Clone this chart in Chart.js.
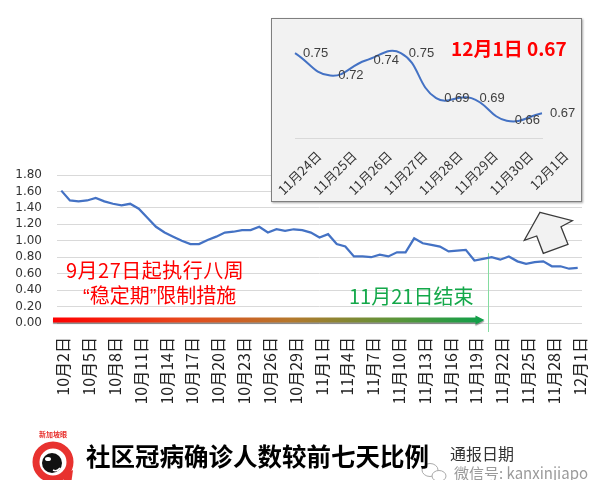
<!DOCTYPE html>
<html>
<head>
<meta charset="utf-8">
<script src="https://cdn.jsdelivr.net/npm/chart.js@4.4.0/dist/chart.umd.min.js"></script>
<style>
  body { margin: 0; width: 601px; height: 480px; overflow: hidden; background: #fff; position: relative; font-family: "Noto Sans CJK SC", sans-serif; }
  #mainChart { position: absolute; left: 0; top: 0; }
  #insetBox { position: absolute; left: 271px; top: 18px; width: 309px; height: 182px; background: #f2f2f2; border: 1px solid #7f7f7f; box-shadow: 1px 1px 2px rgba(0,0,0,0.35); }
  #insetChart { position: absolute; left: 0; top: 0; }
  #deco { position: absolute; left: 0; top: 0; }
  .note { position: absolute; white-space: nowrap; line-height: 1; }
  .q { font-family: "Liberation Sans", sans-serif; }
</style>
</head>
<body>
<canvas id="mainChart" width="601" height="480"></canvas>
<div id="insetBox"><canvas id="insetChart" width="309" height="182"></canvas></div>
<svg id="deco" width="601" height="480">
  <polygon points="540,212.3 572.3,220.7 561,226.7 568,244.3 543.3,253.3 536.7,236 524.3,240.3" fill="#f2f2f2" stroke="#3a3a3a" stroke-width="1.3" stroke-linejoin="miter"/>
  <!-- logo -->
  <path d="M62 476 L73 470 L70 492 Z" fill="#e8322f"/>
  <circle cx="53" cy="462" r="17" fill="#fff" stroke="#e8322f" stroke-width="7"/>
  <circle cx="52" cy="463" r="10" fill="#111"/>
  <ellipse cx="48" cy="459" rx="3" ry="2" fill="#fff"/>
  <path d="M53 470 q4 2 7 -2" stroke="#fff" stroke-width="1.5" fill="none"/>
  <!-- wechat icon -->
  <ellipse cx="430" cy="470" rx="8" ry="6.5" fill="none" stroke="#aaa" stroke-width="1"/>
  <ellipse cx="439" cy="476" rx="7" ry="5.5" fill="#fff" stroke="#aaa" stroke-width="1"/>
</svg>
<span class="note" style="left:39px;top:431px;font-size:7px;color:#e8322f;font-weight:bold;">新加坡眼</span>
<span class="note" style="left:66px;top:260px;font-size:20px;color:#ff0000;letter-spacing:0.5px;">9月27日起执行八周</span>
<span class="note" style="left:83px;top:285px;font-size:20px;color:#ff0000;"><span class="q">“</span>稳定期<span class="q">”</span>限制措施</span>
<span class="note" style="left:349px;top:286px;font-size:20px;color:#14a84a;">11月21日结束</span>
<span class="note" style="left:451px;top:38px;font-size:19px;color:#ff0000;font-weight:bold;">12月1日 0.67</span>
<span class="note" style="left:86px;top:444px;font-size:24.5px;color:#000;font-weight:bold;">社区冠病确诊人数较前七天比例</span>
<span class="note" style="left:450px;top:445px;font-size:16px;color:#333;">通报日期</span>
<span class="note" style="left:454px;top:465px;font-size:15px;color:#9a9a9a;">微信号: kanxinjiapo</span>
<script>
const dateLabels = [
  "10月2日", "10月3日", "10月4日", "10月5日", "10月6日", "10月7日", "10月8日", "10月9日", "10月10日", "10月11日",
  "10月12日", "10月13日", "10月14日", "10月15日", "10月16日", "10月17日", "10月18日", "10月19日", "10月20日", "10月21日",
  "10月22日", "10月23日", "10月24日", "10月25日", "10月26日", "10月27日", "10月28日", "10月29日", "10月30日", "10月31日",
  "11月1日", "11月2日", "11月3日", "11月4日", "11月5日", "11月6日", "11月7日", "11月8日", "11月9日", "11月10日",
  "11月11日", "11月12日", "11月13日", "11月14日", "11月15日", "11月16日", "11月17日", "11月18日", "11月19日", "11月20日",
  "11月21日", "11月22日", "11月23日", "11月24日", "11月25日", "11月26日", "11月27日", "11月28日", "11月29日", "11月30日",
  "12月1日"
];
const ratioValues = [
  1.61, 1.49, 1.48, 1.49, 1.52, 1.48, 1.45, 1.43, 1.45, 1.39,
  1.28, 1.17, 1.10, 1.05, 1.00, 0.96, 0.96, 1.01, 1.05, 1.10,
  1.11, 1.13, 1.13, 1.17, 1.10, 1.14, 1.12, 1.14, 1.13, 1.10,
  1.04, 1.08, 0.96, 0.93, 0.81, 0.81, 0.80, 0.83, 0.81, 0.86,
  0.86, 1.03, 0.97, 0.95, 0.93, 0.87, 0.88, 0.89, 0.76, 0.78,
  0.80, 0.77, 0.81, 0.75, 0.72, 0.74, 0.75, 0.69, 0.69, 0.66,
  0.67
];
const yTickValues = [0, 0.2, 0.4, 0.6, 0.8, 1.0, 1.2, 1.4, 1.6, 1.8];
const insetLabels = ["11月24日", "11月25日", "11月26日", "11月27日", "11月28日", "11月29日", "11月30日", "12月1日"];
const insetValues = [0.75, 0.72, 0.74, 0.75, 0.69, 0.69, 0.66, 0.67];
const endLabel = "11月21日";

const lineBlue = "#4472c4";

// green end line + gradient arrow along the axis
const periodPlugin = {
  id: "period",
  beforeDatasetsDraw(chart) {
    const { ctx, chartArea } = chart;
    const x = chart.scales.x;
    const y = chart.scales.y;
    const endX = Math.round(x.getPixelForValue(dateLabels.indexOf(endLabel) - 0.4)) + 0.5;

    ctx.save();
    ctx.strokeStyle = "#84dca0";
    ctx.lineWidth = 1;
    ctx.beginPath();
    ctx.moveTo(endX, y.getPixelForValue(0.85));
    ctx.lineTo(endX, chartArea.bottom + 9);
    ctx.stroke();

    const ay = y.getPixelForValue(0) - 3;
    const x0 = chartArea.left - 4;
    const tip = endX - 4;
    const grad = ctx.createLinearGradient(x0, 0, tip, 0);
    grad.addColorStop(0, "#ff0000");
    grad.addColorStop(0.3, "#e8481c");
    grad.addColorStop(0.55, "#b5782c");
    grad.addColorStop(0.8, "#5a953a");
    grad.addColorStop(1, "#0ea04a");
    ctx.fillStyle = grad;
    ctx.shadowColor = "rgba(0,0,0,0.4)";
    ctx.shadowOffsetY = 1.5;
    ctx.shadowBlur = 1;
    ctx.beginPath();
    ctx.moveTo(x0, ay - 2.5);
    ctx.lineTo(tip - 9, ay - 2.5);
    ctx.lineTo(tip - 9, ay - 4.5);
    ctx.lineTo(tip, ay);
    ctx.lineTo(tip - 9, ay + 4.5);
    ctx.lineTo(tip - 9, ay + 2.5);
    ctx.lineTo(x0, ay + 2.5);
    ctx.closePath();
    ctx.fill();
    ctx.restore();
  }
};

new Chart(document.getElementById("mainChart"), {
  type: "line",
  data: {
    labels: dateLabels,
    datasets: [{
      data: ratioValues,
      borderColor: lineBlue,
      borderWidth: 2.25,
      pointRadius: 0,
      tension: 0
    }]
  },
  options: {
    responsive: false,
    animation: false,
    layout: { autoPadding: false, padding: { left: 0, right: 19, top: 175, bottom: 0 } },
    plugins: { legend: { display: false }, tooltip: { enabled: false } },
    scales: {
      x: {
        offset: true,
        grid: { display: false, drawTicks: false },
        border: { display: false },
        afterFit(scale) {
          scale.height = 157;
          scale.paddingLeft = 0;
          scale.paddingRight = 0;
        },
        ticks: {
          autoSkip: false,
          minRotation: 90,
          maxRotation: 90,
          padding: 14,
          labelOffset: 2,
          color: "#222",
          font: { family: "Noto Sans CJK SC", size: 16 },
          callback(value, index) { return index % 3 === 0 ? dateLabels[index] : ""; }
        }
      },
      y: {
        min: 0,
        max: 1.8,
        grid: { color: "#d9d9d9", drawTicks: false },
        border: { display: false },
        afterFit(scale) { scale.width = 57; },
        afterBuildTicks(scale) { scale.ticks = yTickValues.map((v) => ({ value: v })); },
        ticks: {
          autoSkip: false,
          padding: 15,
          color: "#333",
          font: { family: "DejaVu Sans", size: 12 },
          callback(value) { return Number(value).toFixed(2); }
        }
      }
    }
  },
  plugins: [periodPlugin]
});

const insetLabelPlugin = {
  id: "insetLabels",
  afterDatasetsDraw(chart) {
    const { ctx } = chart;
    const meta = chart.getDatasetMeta(0);
    ctx.save();
    ctx.fillStyle = "#404040";
    ctx.font = '13px "Liberation Sans"';
    ctx.textBaseline = "middle";
    ctx.textAlign = "left";
    meta.data.forEach((pt, i) => {
      ctx.fillText(insetValues[i].toFixed(2), pt.x + 8, pt.y);
    });
    ctx.restore();
  }
};

new Chart(document.getElementById("insetChart"), {
  type: "line",
  data: {
    labels: insetLabels,
    datasets: [{
      data: insetValues,
      borderColor: lineBlue,
      borderWidth: 2,
      pointRadius: 0,
      tension: 0.45
    }]
  },
  options: {
    responsive: false,
    animation: false,
    layout: { autoPadding: false, padding: { left: 23, right: 39, top: 19, bottom: 0 } },
    plugins: { legend: { display: false }, tooltip: { enabled: false } },
    scales: {
      x: {
        offset: false,
        grid: { display: false, drawTicks: false },
        border: { display: true, color: "#d9d9d9" },
        afterFit(scale) {
          scale.height = 63;
          scale.paddingLeft = 0;
          scale.paddingRight = 0;
        },
        ticks: {
          autoSkip: false,
          minRotation: 45,
          maxRotation: 45,
          padding: 10,
          labelOffset: 24,
          color: "#333",
          font: { family: "Noto Sans CJK SC", size: 13 }
        }
      },
      y: {
        display: false,
        min: 0.637,
        max: 0.77
      }
    }
  },
  plugins: [insetLabelPlugin]
});
</script>
</body>
</html>
